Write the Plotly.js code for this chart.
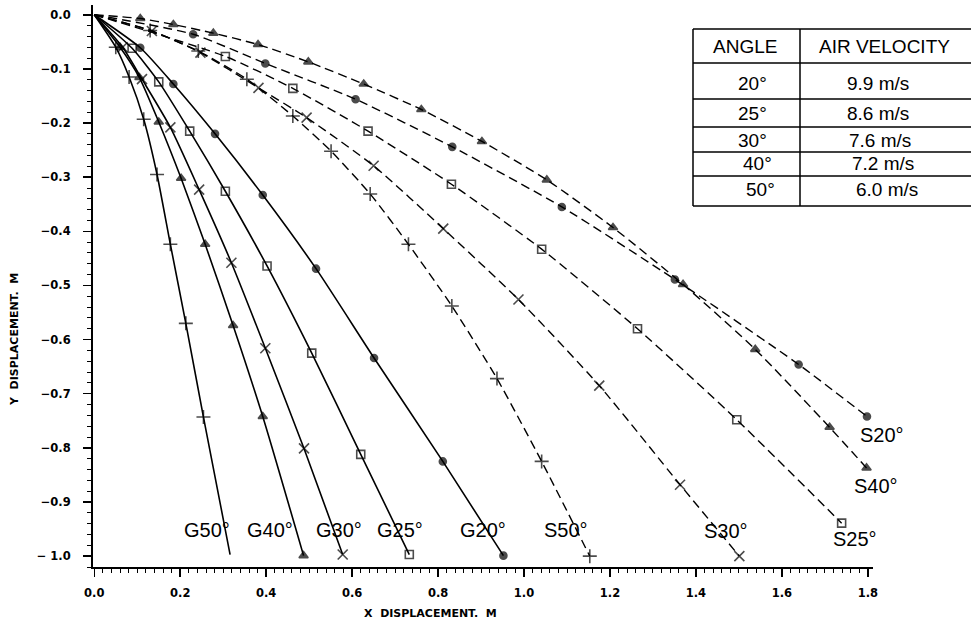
<!DOCTYPE html>
<html><head><meta charset="utf-8">
<script src="https://cdn.plot.ly/plotly-3.0.1.min.js"></script>
<style>html,body{margin:0;padding:0;background:#fff}</style>
</head><body><div id="chart" style="width:971px;height:625px"></div>
<script>
// ---- data ----
const g50X = [0, 0.050, 0.081, 0.115, 0.146, 0.177, 0.213, 0.254, 0.316];
const g50Y = [0, -0.060, -0.115, -0.193, -0.295, -0.424, -0.570, -0.743, -0.997];
const g40X = [0, 0.060, 0.105, 0.150, 0.202, 0.258, 0.323, 0.392, 0.487];
const g40Y = [0, -0.060, -0.116, -0.198, -0.302, -0.424, -0.574, -0.742, -0.999];
const g30X = [0, 0.066, 0.111, 0.177, 0.244, 0.319, 0.398, 0.488, 0.578];
const g30Y = [0, -0.060, -0.119, -0.208, -0.323, -0.458, -0.616, -0.801, -0.997];
const g25X = [0, 0.088, 0.150, 0.222, 0.305, 0.402, 0.506, 0.620, 0.733];
const g25Y = [0, -0.062, -0.124, -0.215, -0.326, -0.464, -0.625, -0.812, -0.997];
const g20X = [0, 0.107, 0.184, 0.281, 0.392, 0.516, 0.651, 0.811, 0.952];
const g20Y = [0, -0.061, -0.128, -0.220, -0.333, -0.469, -0.634, -0.825, -0.999];

const s50X = [0, 0.130, 0.242, 0.355, 0.462, 0.551, 0.642, 0.731, 0.832, 0.937, 1.041, 1.153];
const s50Y = [0, -0.029, -0.067, -0.119, -0.187, -0.252, -0.331, -0.424, -0.538, -0.672, -0.825, -1.000];
const s30X = [0, 0.134, 0.247, 0.382, 0.494, 0.650, 0.812, 0.987, 1.175, 1.363, 1.501];
const s30Y = [0, -0.030, -0.070, -0.135, -0.190, -0.279, -0.395, -0.526, -0.685, -0.868, -1.000];
const s25X = [0, 0.305, 0.462, 0.637, 0.831, 1.041, 1.264, 1.495, 1.739];
const s25Y = [0, -0.077, -0.136, -0.215, -0.313, -0.433, -0.580, -0.748, -0.939];
const s40X = [0, 0.107, 0.184, 0.277, 0.381, 0.498, 0.627, 0.761, 0.902, 1.053, 1.207, 1.370, 1.538, 1.711, 1.797];
const s40Y = [0, -0.007, -0.018, -0.034, -0.055, -0.087, -0.128, -0.175, -0.234, -0.305, -0.393, -0.498, -0.618, -0.762, -0.837];
const s20X = [0, 0.230, 0.398, 0.608, 0.833, 1.088, 1.351, 1.639, 1.798];
const s20Y = [0, -0.036, -0.090, -0.156, -0.244, -0.355, -0.489, -0.646, -0.742];

const seriesNames = ['G50°', 'G40°', 'G30°', 'G25°', 'G20°', 'S50°', 'S30°', 'S25°', 'S40°', 'S20°'];

const tableHeader = ['ANGLE', 'AIR VELOCITY'];
const tableAngles = ['20°', '25°', '30°', '40°', '50°'];
const tableVelocities = ['9.9 m/s', '8.6 m/s', '7.6 m/s', '7.2 m/s', '6.0 m/s'];

const xTickVals = [0, 0.2, 0.4, 0.6, 0.8, 1.0, 1.2, 1.4, 1.6, 1.8];
const xTickText = ['0.0', '0.2', '0.4', '0.6', '0.8', '1.0', '1.2', '1.4', '1.6', '1.8'];
const yTickVals = [0, -0.1, -0.2, -0.3, -0.4, -0.5, -0.6, -0.7, -0.8, -0.9, -1.0];
const yTickText = ['0.0', '−0.1', '−0.2', '−0.3', '−0.4', '−0.5', '−0.6', '−0.7', '−0.8', '−0.9', '− 1.0'];

// ---- styles ----
const SYM = {
  '20': {symbol: 'circle', size: 7},
  '25': {symbol: 'square-open', size: 8},
  '30': {symbol: 'x-thin', size: 10},
  '40': {symbol: 'triangle-up', size: 8},
  '50': {symbol: 'cross-thin', size: 10}
};

function mk(x, y, name, dashed, hideLast) {
  const key = name.slice(1, 3);
  const s = SYM[key];
  const sizes = x.map((v, i) => (i === 0 || (hideLast && i === x.length - 1)) ? 0 : s.size);
  return {
    type: 'scatter', mode: 'lines+markers', x: x, y: y, name: name,
    line: {color: 'black', width: dashed ? 1.4 : 1.6, dash: dashed ? '9px,5px' : 'solid', shape: 'spline', smoothing: 0.6},
    marker: {symbol: s.symbol, size: sizes, color: 'black', line: {color: 'black', width: 1.6}},
    cliponaxis: false,
    hoverinfo: 'skip'
  };
}

const traces = [
  mk(g50X, g50Y, seriesNames[0], false, true),
  mk(g40X, g40Y, seriesNames[1], false, false),
  mk(g30X, g30Y, seriesNames[2], false, false),
  mk(g25X, g25Y, seriesNames[3], false, false),
  mk(g20X, g20Y, seriesNames[4], false, false),
  mk(s50X, s50Y, seriesNames[5], true, false),
  mk(s30X, s30Y, seriesNames[6], true, false),
  mk(s25X, s25Y, seriesNames[7], true, false),
  mk(s40X, s40Y, seriesNames[8], true, false),
  mk(s20X, s20Y, seriesNames[9], true, false)
];

const XR = [-0.003, 1.812], YR = [-1.02, 0.018];
const toPX = v => (v - XR[0]) / (XR[1] - XR[0]);
const toPY = v => (v - YR[0]) / (YR[1] - YR[0]);

// curve label anchors (layout only, in axis units)
const labelPos = [
  [0.263, -0.951], [0.409, -0.951], [0.570, -0.951], [0.712, -0.951], [0.904, -0.951],
  [1.098, -0.951], [1.469, -0.953], [1.770, -0.968], [1.819, -0.870], [1.833, -0.777]
];
const labelFont = {family: 'Liberation Sans, Arial, sans-serif', size: 20, color: 'black'};
const annotations = seriesNames.map((t, i) => ({
  x: toPX(labelPos[i][0]), y: toPY(labelPos[i][1]), xref: 'paper', yref: 'paper', text: t,
  showarrow: false, font: labelFont, xanchor: 'center', yanchor: 'middle'
}));

// table geometry (pixels -> paper)
const PL = 93, PR = 873, PT = 5, PB = 567;
const px = v => (v - PL) / (PR - PL);
const py = v => 1 - (v - PT) / (PB - PT);
const tLeft = 693, tMid = 800, tRight = 980;
const rowLines = [29, 63, 99, 127, 152, 176, 206];
const shapes = [];
rowLines.forEach(r => shapes.push({type: 'line', xref: 'paper', yref: 'paper',
  x0: px(tLeft), x1: px(tRight), y0: py(r), y1: py(r), line: {color: 'black', width: 1.5}}));
shapes.push({type: 'line', xref: 'paper', yref: 'paper', x0: px(tLeft), x1: px(tLeft), y0: py(29), y1: py(206), line: {color: 'black', width: 1.5}});
shapes.push({type: 'line', xref: 'paper', yref: 'paper', x0: px(tMid), x1: px(tMid), y0: py(29), y1: py(206), line: {color: 'black', width: 1.5}});

const tFont = {family: 'Liberation Sans, Arial, sans-serif', size: 19, color: 'black'};
annotations.push({xref: 'paper', yref: 'paper', x: px(745), y: py(46), text: tableHeader[0], showarrow: false, font: tFont, xanchor: 'center', yanchor: 'middle'});
annotations.push({xref: 'paper', yref: 'paper', x: px(884), y: py(46), text: tableHeader[1], showarrow: false, font: tFont, xanchor: 'center', yanchor: 'middle'});
const rowCenters = [84, 114, 140, 164, 189];
const angX = [752, 752, 752, 757, 760];
const velX = [878, 878, 880, 883, 887];
tableAngles.forEach((a, i) => {
  annotations.push({xref: 'paper', yref: 'paper', x: px(angX[i]), y: py(rowCenters[i]), text: a, showarrow: false, font: tFont, xanchor: 'center', yanchor: 'middle'});
  annotations.push({xref: 'paper', yref: 'paper', x: px(velX[i]), y: py(rowCenters[i]), text: tableVelocities[i], showarrow: false, font: tFont, xanchor: 'center', yanchor: 'middle'});
});

// axis titles as annotations
const axFont = {family: 'DejaVu Sans, sans-serif', size: 11, color: 'black', weight: 'bold'};
annotations.push({xref: 'paper', yref: 'paper', x: px(430), y: py(614), text: 'X&nbsp;&nbsp;DISPLACEMENT.&nbsp;&nbsp;M', showarrow: false, font: axFont, xanchor: 'center', yanchor: 'middle'});
annotations.push({xref: 'paper', yref: 'paper', x: px(14), y: py(340), text: 'Y&nbsp;&nbsp;DISPLACEMENT.&nbsp;&nbsp;M', textangle: -90, showarrow: false, font: axFont, xanchor: 'center', yanchor: 'middle'});

const tickFont = {family: 'DejaVu Sans, sans-serif', size: 11.5, color: 'black', weight: 'bold'};
const layout = {
  width: 971, height: 625,
  margin: {l: PL, r: 971 - PR, t: PT, b: 625 - PB},
  paper_bgcolor: 'white', plot_bgcolor: 'white',
  showlegend: false,
  xaxis: {
    range: XR, showgrid: false, zeroline: false,
    showline: true, linecolor: 'black', linewidth: 2,
    tickmode: 'array', tickvals: xTickVals, ticktext: xTickText,
    ticks: 'outside', ticklen: 8, tickwidth: 1.5, tickcolor: 'black',
    ticklabelstandoff: 6, tickfont: tickFont,
    minor: {tick0: 0, dtick: 0.02, ticks: 'outside', ticklen: 4, tickwidth: 1, tickcolor: 'black', showgrid: false}
  },
  yaxis: {
    range: YR, showgrid: false, zeroline: false,
    showline: true, linecolor: 'black', linewidth: 2,
    tickmode: 'array', tickvals: yTickVals, ticktext: yTickText,
    ticks: 'outside', ticklen: 8, tickwidth: 1.5, tickcolor: 'black',
    ticklabelstandoff: 10, tickfont: tickFont,
    minor: {tick0: 0, dtick: 0.02, ticks: 'outside', ticklen: 4, tickwidth: 1, tickcolor: 'black', showgrid: false}
  },
  shapes: shapes,
  annotations: annotations
};

Plotly.newPlot('chart', traces, layout, {staticPlot: true, displayModeBar: false});
</script>
</body></html>
